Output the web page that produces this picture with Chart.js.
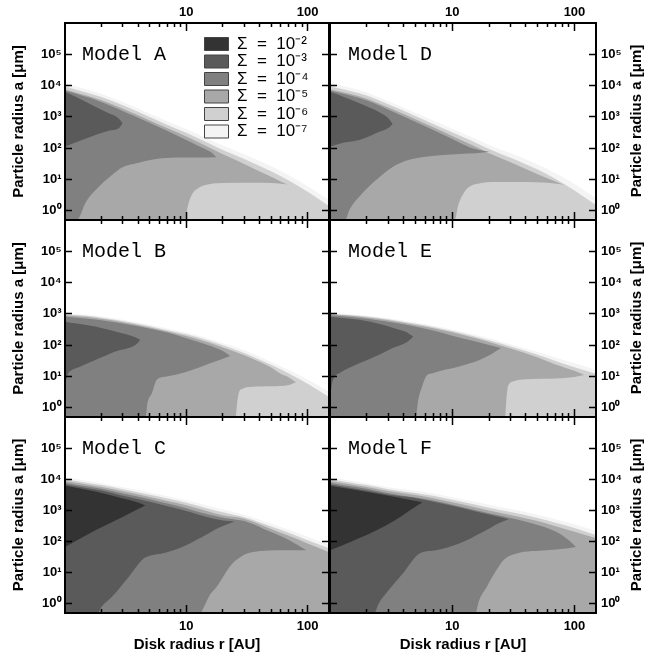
<!DOCTYPE html>
<html>
<head>
<meta charset="utf-8">
<script src="https://cdn.jsdelivr.net/npm/chart.js@4.4.1/dist/chart.umd.min.js"></script>
<style>
  body { margin: 0; background: #fff; }
  #fig { position: relative; width: 656px; height: 660px; overflow: hidden; }
  #fig canvas { position: absolute; left: 0; top: 0; }
  .model { position: absolute; font: 20px "Liberation Mono", "DejaVu Sans Mono", monospace; line-height: 20px; color: #000; white-space: pre; }
  .rtitle { position: absolute; font: bold 15px "Liberation Sans", Arial, sans-serif; color: #000; white-space: nowrap;
            transform: translate(-50%, -50%) rotate(-90deg); }
</style>
</head>
<body>
<div id="fig">
  <canvas id="pA" width="656" height="660"></canvas>
  <canvas id="pB" width="656" height="660"></canvas>
  <canvas id="pC" width="656" height="660"></canvas>
  <canvas id="pD" width="656" height="660"></canvas>
  <canvas id="pE" width="656" height="660"></canvas>
  <canvas id="pF" width="656" height="660"></canvas>
  <canvas id="legend" width="300" height="112" style="left:204px; top:35px"></canvas>
  <div class="model" style="left:82px; top:45px">Model A</div>
  <div class="model" style="left:82px; top:242px">Model B</div>
  <div class="model" style="left:82px; top:439px">Model C</div>
  <div class="model" style="left:348px; top:45px">Model D</div>
  <div class="model" style="left:348px; top:242px">Model E</div>
  <div class="model" style="left:348px; top:439px">Model F</div>
  <div class="rtitle" style="left:635px; top:121px">Particle radius a [μm]</div>
  <div class="rtitle" style="left:635px; top:318px">Particle radius a [μm]</div>
  <div class="rtitle" style="left:635px; top:515px">Particle radius a [μm]</div>
</div>
<script>
// axis ranges and ticks
const xMin = 1, xMax = 150;
const yMin = 0.5, yMax = 1e6;
const xMinorTicks = [2, 3, 4, 5, 6, 7, 8, 9, 20, 30, 40, 50, 60, 70, 80, 90];
const xMajorTicks = [10, 100];
const xTickLabels = ['10', '100'];
const yTicks = [1, 10, 100, 1e3, 1e4, 1e5];
const yTickLabels = ['10⁰', '10¹', '10²', '10³', '10⁴', '10⁵'];
const xTitle = 'Disk radius r [AU]';
const yTitle = 'Particle radius a [μm]';

// contour levels, Sigma = 10^-2 ... 10^-7
const sigmaLabels = ['Σ  =  10⁻²', 'Σ  =  10⁻³', 'Σ  =  10⁻⁴', 'Σ  =  10⁻⁵', 'Σ  =  10⁻⁶', 'Σ  =  10⁻⁷'];
const sigmaColors = ['#333333', '#5a5a5a', '#808080', '#a8a8a8', '#d0d0d0', '#f4f4f4'];

// radius grid for the outer contours
const envX = [1, 1.5, 2, 3, 5, 7, 10, 15, 20, 30, 50, 70, 100, 150];

// Model A
const A_s7 = [11750, 7590, 5370, 2950, 1260, 724, 407, 200, 120, 63, 26, 13.5, 6.0, 2.2];
const A_s6 = [9330, 6030, 4270, 2340, 977, 550, 309, 148, 87, 45, 18, 9.1, 4.0, 1.4];
const A_s5top = [[1, 7400], [1.5, 4800], [2, 3390], [3, 1820], [5, 760], [7, 427], [10, 234], [15, 110], [20, 63], [30, 31], [50, 12], [60, 8.5], [68, 6.8]];
const A_s5bot = [[1, 0.5], [9.8, 0.5], [10.2, 1.2], [11, 3], [12.5, 5.2], [15, 6.8], [20, 7.6], [35, 7.8], [50, 7.6], [60, 7.2], [68, 6.8]];
const A_s4top = [[1, 6900], [1.94, 3100], [3.64, 1100], [6.93, 360], [10.7, 160], [13.7, 100], [16.6, 66], [17.6, 51]];
const A_s4bot = [[1, 0.5], [1.23, 0.5], [1.3, 0.57], [1.47, 1.71], [1.9, 5.8], [2.44, 13.8], [2.95, 24], [4.05, 34], [6.3, 47], [9.2, 50], [13, 50], [17.6, 51]];
const A_s3top = [[1, 6300], [1.3, 3900], [1.78, 2100], [2.29, 1290], [2.77, 890], [2.99, 620]];
const A_s3bot = [[1, 110], [1.38, 180], [1.78, 263], [2.29, 360], [2.77, 427], [2.99, 620]];

// Model B
const B_s7 = [1050, 933, 813, 646, 447, 339, 251, 166, 117, 68, 29.5, 15.8, 7.9, 3.2];
const B_s6 = [960, 860, 750, 590, 400, 300, 220, 142, 98, 56, 23.5, 12.2, 5.8, 2.2];
const B_s5top = [[1, 900], [1.5, 800], [2, 690], [3, 540], [5, 362], [7, 270], [10, 195], [15, 124], [20, 84], [30, 47], [50, 19], [60, 12], [70, 9.2], [80, 6.5]];
const B_s5bot = [[1, 0.5], [25.5, 0.5], [26.3, 1.5], [27, 2.9], [29.5, 4.1], [35, 4.6], [50, 4.8], [70, 5.3], [80, 6.5]];
const B_s4top = [[1, 820], [2, 620], [4, 400], [7, 250], [10, 165], [15, 100], [20, 64], [23, 45]];
const B_s4bot = [[1, 0.5], [4.6, 0.5], [4.8, 1.5], [5.2, 2.9], [5.7, 7.6], [6.9, 9.8], [10.1, 14], [15.7, 26], [23, 45]];
const B_s3top = [[1, 560], [1.78, 390], [2.95, 238], [3.8, 178], [4.18, 146]];
const B_s3bot = [[1, 6], [1.07, 13], [1.14, 16], [1.3, 19.5], [1.78, 33], [2.6, 62], [3.8, 100], [4.18, 146]];

// Model C
const C_s7 = [11480, 8910, 7410, 5500, 3720, 2820, 2090, 1410, 1070, 724, 372, 240, 141, 79];
const C_s6 = [10000, 7760, 6460, 4790, 3160, 2400, 1740, 1150, 871, 600, 302, 190, 110, 60];
const C_s5 = [8710, 6760, 5620, 4070, 2690, 2000, 1450, 933, 692, 540, 251, 151, 85, 45];
const C_s4top = [[1, 7760], [1.5, 5890], [2, 4900], [3, 3470], [5, 2290], [7, 1660], [10, 1175], [15, 741], [20, 575], [26, 500], [30, 457], [50, 200], [70, 112], [98, 52]];
const C_s4bot = [[1, 0.5], [13, 0.5], [14, 0.8], [15.5, 1.8], [17.8, 3.5], [24, 19.5], [35.6, 46], [63, 52], [98, 52]];
const C_s3top = [[1, 6920], [1.5, 5250], [2, 4370], [3, 2950], [5, 1900], [7, 1350], [10, 955], [15, 600], [20, 470], [25, 440]];
const C_s3bot = [[1, 0.5], [1.85, 0.5], [2, 0.8], [2.44, 1.66], [3.35, 7.2], [4.45, 28], [5.2, 36], [6.3, 41], [8.65, 59], [13.5, 138], [17.8, 257], [22, 360], [25, 440]];
const C_s2top = [[1, 6170], [1.78, 4000], [2.95, 2450], [4.05, 1750], [4.59, 1426]];
const C_s2bot = [[1, 66], [1.78, 229], [2.95, 603], [4.05, 1120], [4.59, 1426]];

// Model D
const D_s7 = [11750, 8300, 6030, 3160, 1350, 760, 417, 209, 126, 69, 30, 15.5, 7.1, 2.5];
const D_s6 = [9330, 6600, 4800, 2500, 1060, 590, 320, 158, 93, 49, 20.5, 10.2, 4.4, 1.5];
const D_s5top = [[1, 7500], [1.5, 5300], [2, 3800], [3, 1980], [5, 830], [7, 460], [10, 245], [15, 118], [20, 68], [30, 35], [50, 14.5], [70, 8.5], [82, 6.6]];
const D_s5bot = [[1, 0.5], [10.5, 0.5], [11.2, 1.5], [12.5, 3.8], [13.8, 5.8], [17, 7.5], [21.4, 8.2], [40, 8.2], [60, 7.8], [72, 7.2], [82, 6.6]];
const D_s4top = [[1, 6900], [2, 3350], [3.5, 1300], [6, 500], [10, 195], [14, 105], [17.5, 84], [20.1, 76]];
const D_s4bot = [[1, 0.5], [1.33, 0.5], [1.44, 1.05], [1.74, 2.8], [2.38, 9.5], [3.26, 25], [4.45, 42], [6.1, 53], [8.4, 60], [11.4, 65], [15.7, 68], [20.1, 76]];
const D_s3top = [[1, 6300], [1.3, 4300], [1.74, 2700], [2.53, 1400], [3.0, 900], [3.26, 590]];
const D_s3bot = [[1, 110], [1.3, 150], [1.74, 182], [2.53, 331], [3.0, 440], [3.26, 590]];

// Model E
const E_s7 = [1050, 955, 871, 724, 525, 417, 316, 219, 166, 107, 60, 40, 26, 15.8];
const E_s6 = [1000, 900, 815, 670, 480, 378, 283, 192, 143, 90, 49, 31, 19.5, 12];
const E_s5top = [[1, 960], [1.5, 860], [2, 760], [3, 620], [5, 440], [7, 345], [10, 255], [15, 170], [20, 125], [30, 77], [50, 40], [70, 24], [100, 15], [120, 11]];
const E_s5bot = [[1, 0.5], [27, 0.5], [27.8, 2], [28.5, 4.7], [32, 7], [40, 8], [70, 8.5], [100, 9.5], [120, 11]];
const E_s4top = [[1, 900], [2, 700], [4, 460], [7, 290], [10, 200], [15, 135], [20, 100], [25, 80]];
const E_s4bot = [[1, 0.5], [5, 0.5], [5.3, 2], [5.7, 5], [6.1, 9.8], [6.9, 12.5], [11.4, 20.6], [16.7, 33], [21, 52], [25, 80]];
const E_s3top = [[1, 810], [1.74, 640], [2.5, 480], [3.26, 360], [4.2, 260], [4.8, 186]];
const E_s3bot = [[1, 2], [1.04, 6], [1.1, 10], [1.19, 12.6], [1.74, 26], [2.5, 48], [3.26, 80], [4.2, 120], [4.8, 186]];

// Model F
const F_s7 = [11480, 8910, 7410, 5500, 4270, 3470, 2630, 1905, 1510, 1100, 724, 513, 355, 214];
const F_s6 = [10000, 7760, 6460, 4790, 3630, 2920, 2190, 1560, 1220, 880, 570, 400, 272, 162];
const F_s5 = [8710, 6760, 5620, 4170, 3090, 2460, 1820, 1280, 990, 710, 450, 310, 205, 129];
const F_s4top = [[1, 7760], [1.5, 5890], [2, 4900], [3, 3550], [5, 2600], [7, 2050], [10, 1500], [15, 1050], [20, 800], [30, 570], [50, 340], [70, 210], [90, 110], [103, 66]];
const F_s4bot = [[1, 0.5], [15.5, 0.5], [16.5, 1.2], [19.2, 3.5], [23, 12], [26.2, 25], [33.7, 41], [59, 52], [85, 59], [103, 66]];
const F_s3top = [[1, 6920], [1.5, 5250], [2, 4370], [3, 3250], [5, 2500], [7, 1900], [10, 1400], [15, 950], [20, 740], [25, 600], [29, 520]];
const F_s3bot = [[1, 0.5], [2.3, 0.5], [2.5, 1.0], [2.87, 2.1], [3.94, 9.3], [5.4, 41], [7.4, 52], [11.4, 85], [17.8, 200], [24.3, 390], [29, 520]];
const F_s2top = [[1, 6170], [2.38, 3500], [4.45, 2200], [5.7, 1820]];
const F_s2bot = [[1, 52], [1.5, 100], [2.38, 224], [3.4, 480], [4.45, 977], [5.7, 1820]];

// panel layout in pixels
const colLeft = [65, 330], colRight = [329, 596];
const rowTop = [23, 220, 417], rowBottom = [220, 417, 613];

const panels = [
  { id: 'pA', col: 0, row: 0, bands: [[7, A_s7], [6, A_s6], [5, A_s5top, A_s5bot], [4, A_s4top, A_s4bot], [3, A_s3top, A_s3bot]] },
  { id: 'pB', col: 0, row: 1, bands: [[7, B_s7], [6, B_s6], [5, B_s5top, B_s5bot], [4, B_s4top, B_s4bot], [3, B_s3top, B_s3bot]] },
  { id: 'pC', col: 0, row: 2, bands: [[7, C_s7], [6, C_s6], [5, C_s5], [4, C_s4top, C_s4bot], [3, C_s3top, C_s3bot], [2, C_s2top, C_s2bot]] },
  { id: 'pD', col: 1, row: 0, bands: [[7, D_s7], [6, D_s6], [5, D_s5top, D_s5bot], [4, D_s4top, D_s4bot], [3, D_s3top, D_s3bot]] },
  { id: 'pE', col: 1, row: 1, bands: [[7, E_s7], [6, E_s6], [5, E_s5top, E_s5bot], [4, E_s4top, E_s4bot], [3, E_s3top, E_s3bot]] },
  { id: 'pF', col: 1, row: 2, bands: [[7, F_s7], [6, F_s6], [5, F_s5], [4, F_s4top, F_s4bot], [3, F_s3top, F_s3bot], [2, F_s2top, F_s2bot]] },
];

const sans = '"Liberation Sans", Arial, sans-serif';
const tickFont = { family: sans, size: 13, weight: 'bold' };
const titleFont = { family: sans, size: 15, weight: 'bold' };

function toPoints(arr) {
  return arr.map((v, i) => Array.isArray(v) ? { x: v[0], y: v[1] } : { x: envX[i], y: v });
}

function bandDatasets(level, top, bottom) {
  const base = {
    showLine: true, pointRadius: 0, pointHoverRadius: 0,
    borderWidth: 0, borderColor: 'rgba(0,0,0,0)',
    backgroundColor: sigmaColors[level - 2],
    cubicInterpolationMode: 'monotone',
    order: level, xAxisID: 'x', yAxisID: 'y'
  };
  if (!bottom) return [{ ...base, data: toPoints(top), fill: 'start' }];
  return [{ ...base, data: toPoints(top), fill: '+1' }, { ...base, data: toPoints(bottom), fill: false }];
}

function fixedSize(size) {
  return (s) => {
    if (s.isHorizontal()) s.height = size; else s.width = size;
    s.paddingLeft = 0; s.paddingRight = 0; s.paddingTop = 0; s.paddingBottom = 0;
  };
}

function setTicks(vals) {
  return (s) => { s.ticks = vals.map(v => ({ value: v })); };
}

function tickGrid(len) {
  return { display: true, drawOnChartArea: false, drawTicks: true, tickLength: len, tickColor: '#000', tickWidth: 1.5, z: 1 };
}

const border = { display: true, color: '#000', width: 2, z: 1 };

function tickOpts(labels, on, padding) {
  return { display: true, autoSkip: false, maxRotation: 0, minRotation: 0, font: tickFont, color: '#000', padding,
           callback: (v, i) => on ? labels[i] : '' };
}

function makeScales(col, row) {
  const showTop = row === 0, showBottom = row === 2, showLeft = col === 0, showRight = col === 1;
  const xBase = { type: 'logarithmic', min: xMin, max: xMax, bounds: 'data', border };
  const yBase = { type: 'logarithmic', min: yMin, max: yMax, bounds: 'data', border };
  return {
    x: { ...xBase, position: 'bottom', weight: 0, grid: tickGrid(-4), ticks: tickOpts([], false, 0),
         afterBuildTicks: setTicks(xMinorTicks), afterFit: fixedSize(0) },
    xb: { ...xBase, position: 'bottom', weight: 1, grid: tickGrid(-8), ticks: tickOpts(xTickLabels, showBottom, 14),
          afterBuildTicks: setTicks(xMajorTicks), afterFit: fixedSize(showBottom ? 41 : 0),
          title: { display: showBottom, text: xTitle, font: titleFont, color: '#000', padding: 0 } },
    xt: { ...xBase, position: 'top', weight: 0, grid: tickGrid(-4), ticks: tickOpts([], false, 0),
          afterBuildTicks: setTicks(xMinorTicks), afterFit: fixedSize(0) },
    xtm: { ...xBase, position: 'top', weight: 1, grid: tickGrid(-8), ticks: tickOpts(xTickLabels, showTop, 11),
           afterBuildTicks: setTicks(xMajorTicks), afterFit: fixedSize(showTop ? 23 : 0) },
    y: { ...yBase, position: 'left', grid: tickGrid(-7), ticks: tickOpts(yTickLabels, showLeft, 10.5),
         afterBuildTicks: setTicks(yTicks), afterFit: fixedSize(showLeft ? 55 : 0),
         title: { display: showLeft, text: yTitle, font: titleFont, color: '#000', padding: 0 } },
    yr: { ...yBase, position: 'right', grid: tickGrid(-7), ticks: tickOpts(yTickLabels, showRight, 12),
          afterBuildTicks: setTicks(yTicks), afterFit: fixedSize(showRight ? 60 : 0) }
  };
}

panels.forEach(p => {
  const L = colLeft[p.col], R = colRight[p.col], T = rowTop[p.row], B = rowBottom[p.row];
  const datasets = [];
  p.bands.forEach(([level, top, bottom]) => datasets.push(...bandDatasets(level, top, bottom)));
  new Chart(document.getElementById(p.id), {
    type: 'scatter',
    data: { datasets },
    options: {
      responsive: false,
      animation: false,
      events: [],
      layout: {
        padding: {
          left: L - (p.col === 0 ? 55 : 0),
          right: 656 - R - (p.col === 1 ? 60 : 0),
          top: T - (p.row === 0 ? 23 : 0),
          bottom: 660 - B - (p.row === 2 ? 41 : 0)
        }
      },
      scales: makeScales(p.col, p.row),
      plugins: { legend: { display: false }, tooltip: { enabled: false } }
    }
  });
});

// legend box shown in the Model A panel
new Chart(document.getElementById('legend'), {
  type: 'scatter',
  data: {
    datasets: sigmaLabels.map((label, i) => ({
      label, data: [], backgroundColor: sigmaColors[i], borderColor: '#444', borderWidth: 1
    }))
  },
  options: {
    responsive: false,
    animation: false,
    events: [],
    scales: { x: { display: false }, y: { display: false } },
    plugins: {
      tooltip: { enabled: false },
      legend: {
        position: 'left', align: 'start',
        labels: { boxWidth: 24, boxHeight: 13, padding: 0.5, color: '#000', font: { family: sans, size: 17 } }
      }
    }
  }
});
</script>
</body>
</html>
